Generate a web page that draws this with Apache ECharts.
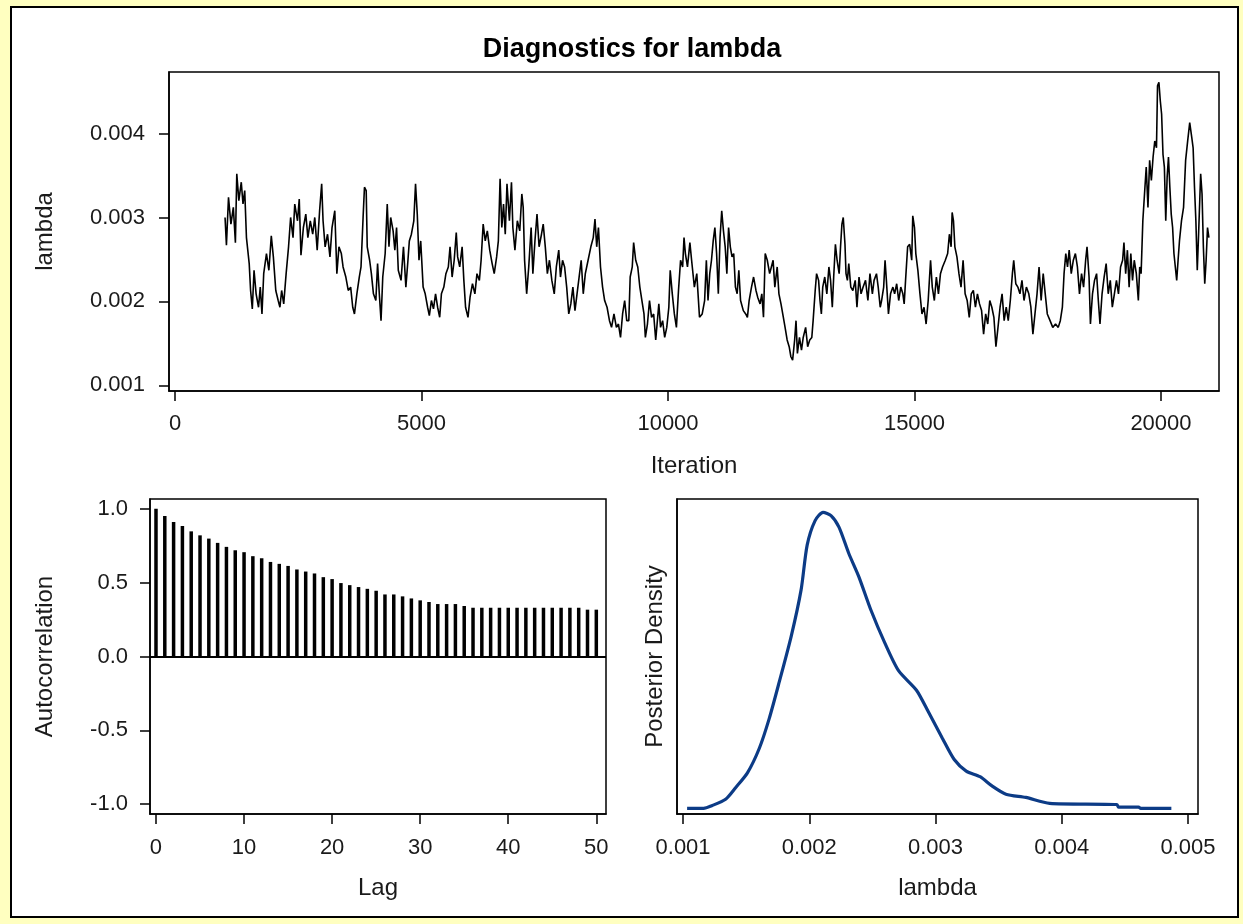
<!DOCTYPE html>
<html>
<head>
<meta charset="utf-8">
<script src="https://cdn.jsdelivr.net/npm/echarts@6/dist/echarts.min.js"></script>
<style>
html,body{margin:0;padding:0;background:#FFFFC0;}
#chart{width:1243px;height:924px;}
</style>
</head>
<body>
<div id="chart"></div>
<script>
// ---- Trace plot data (iteration, lambda) ----
const traceIter = [
1015,1043,1085,1134,1183,1225,1253,1295,1344,1379,
1414,1449,1505,1533,1568,1603,1645,1694,1729,1764,
1799,1855,1904,1953,1995,2044,2093,2128,2163,2205,
2254,2303,2345,2394,2429,2485,2520,2555,2604,2653,
2695,2744,2793,2835,2884,2933,2975,3003,3045,3094,
3143,3185,3241,3283,3325,3374,3409,3465,3514,3563,
3605,3640,3689,3738,3773,3815,3843,3878,3899,3948,
3983,4025,4074,4109,4144,4179,4214,4263,4305,4340,
4375,4424,4459,4494,4529,4585,4634,4683,4725,4753,
4795,4844,4879,4914,4949,4984,5033,5075,5124,5159,
5201,5243,5285,5327,5369,5404,5453,5495,5544,5579,
5621,5663,5705,5733,5775,5824,5859,5894,5943,5985,
6034,6083,6125,6174,6209,6251,6293,6335,6384,6433,
6475,6524,6559,6594,6629,6664,6699,6734,6783,6825,
6853,6895,6944,6993,7035,7063,7091,7133,7175,7224,
7259,7301,7343,7385,7434,7469,7511,7553,7595,7644,
7693,7735,7784,7819,7861,7903,7945,7987,8029,8071,
8113,8155,8197,8239,8281,8323,8379,8435,8484,8519,
8554,8589,8631,8673,8715,8764,8813,8855,8904,8953,
8995,9037,9079,9121,9163,9205,9233,9275,9303,9345,
9387,9429,9471,9513,9541,9583,9625,9667,9709,9751,
9779,9814,9849,9891,9933,9975,10017,10045,10087,10129,
10171,10213,10255,10297,10325,10353,10395,10444,10479,10535,
10584,
10639,10694,10743,10778,10812,10847,10882,10917,10951,10986,
11021,11056,11090,11125,11160,11194,11229,11264,11299,11333,
11368,11403,11437,11472,11528,11576,11611,11646,11694,11736,
11785,11819,11868,11903,11937,11972,12014,12062,12097,12132,
12167,12215,12250,12292,12340,12375,12417,12458,12493,12528,
12569,12597,12625,12667,12708,12743,12792,12833,12875,12917,
12944,12986,13014,13055,13083,13111,13139,13180,13222,13264,
13298,13333,13361,13396,13430,13472,13500,13528,13555,13590,
13611,13639,13667,13708,13750,13798,13833,13875,13916,13958,
14007,14055,14097,14146,14180,14229,14264,14305,14333,14375,
14403,14430,14472,14514,14562,14597,14639,14680,14722,14764,
14791,14819,14861,14902,14944,14965,15000,15027,15069,15111,
15152,15194,15236,15278,15326,15361,15403,15444,15486,15527,
15569,15625,15673,15708,15743,15764,15791,15819,15861,15902,
15944,15986,16027,16069,16111,16152,16194,16236,16277,16319,
16361,16402,16444,16486,16527,16569,16611,16652,16694,16736,
16777,16819,16861,16902,16944,16986,17013,17055,17097,17139,
17180,17222,17270,17319,17361,17402,17444,17486,17527,17569,
17611,17652,17694,17750,17805,17861,17916,17958,18000,18034,
18069,18104,18138,18180,18222,18264,18305,18347,18389,18430,
18472,18500,18541,18569,18611,18652,18694,18729,18763,18805,
18847,18888,18930,18972,19013,19055,19097,19138,19180,19222,
19249,19284,19319,19354,19388,19423,19458,19500,19541,19569,
19597,19632,19666,19701,19736,19770,19805,19840,19874,19909,
19930,19958,19986,20013,20041,20069,20097,20125,20152,20180,
20208,20236,20263,20291,20319,20347,20375,20416,20458,20500,
20541,20583,20625,20652,20680,20708,20736,20763,20805,20833,
20860,20888,20916,20944,20972
];
const traceLambda = [
0.00300,0.00267,0.00324,0.00292,0.00312,0.00270,0.00352,0.00320,0.00342,0.00316,
0.00332,0.00276,0.00245,0.00213,0.00191,0.00237,0.00209,0.00193,0.00217,0.00185,
0.00233,0.00257,0.00237,0.00278,0.00253,0.00213,0.00201,0.00193,0.00213,0.00197,
0.00233,0.00265,0.00300,0.00276,0.00316,0.00296,0.00322,0.00255,0.00288,0.00304,
0.00276,0.00296,0.00280,0.00300,0.00261,0.00308,0.00340,0.00296,0.00265,0.00280,
0.00253,0.00288,0.00308,0.00233,0.00265,0.00257,0.00241,0.00229,0.00213,0.00217,
0.00193,0.00185,0.00209,0.00229,0.00241,0.00300,0.00336,0.00332,0.00265,0.00249,
0.00233,0.00209,0.00201,0.00245,0.00209,0.00177,0.00229,0.00257,0.00316,0.00265,
0.00300,0.00284,0.00261,0.00288,0.00237,0.00225,0.00265,0.00217,0.00249,0.00272,
0.00280,0.00296,0.00340,0.00304,0.00249,0.00272,0.00217,0.00209,0.00193,0.00183,
0.00201,0.00191,0.00209,0.00193,0.00181,0.00209,0.00217,0.00233,0.00241,0.00265,
0.00229,0.00249,0.00282,0.00253,0.00241,0.00265,0.00225,0.00193,0.00181,0.00205,
0.00221,0.00209,0.00233,0.00225,0.00249,0.00292,0.00272,0.00284,0.00261,0.00245,
0.00233,0.00253,0.00272,0.00346,0.00288,0.00316,0.00280,0.00340,0.00296,0.00342,
0.00288,0.00261,0.00296,0.00284,0.00328,0.00312,0.00249,0.00209,0.00241,0.00288,
0.00233,0.00272,0.00304,0.00265,0.00280,0.00292,0.00265,0.00233,0.00249,0.00225,
0.00209,0.00241,0.00261,0.00229,0.00249,0.00241,0.00217,0.00185,0.00197,0.00217,
0.00189,0.00209,0.00229,0.00249,0.00209,0.00233,0.00249,0.00265,0.00276,0.00298,
0.00265,0.00288,0.00241,0.00217,0.00201,0.00193,0.00177,0.00169,0.00185,0.00169,
0.00173,0.00157,0.00185,0.00201,0.00177,0.00177,0.00229,0.00241,0.00270,0.00249,
0.00241,0.00217,0.00201,0.00185,0.00157,0.00173,0.00201,0.00181,0.00185,0.00154,
0.00173,0.00197,0.00169,0.00177,0.00157,0.00169,0.00193,0.00237,0.00209,0.00185,
0.00169,0.00213,0.00249,0.00241,0.00276,0.00257,0.00241,0.00270,0.00249,0.00217,
0.00233,
0.00181,0.00185,0.00201,0.00249,0.00201,0.00233,0.00249,0.00272,0.00288,0.00257,
0.00209,0.00276,0.00308,0.00284,0.00265,0.00233,0.00288,0.00265,0.00253,0.00257,
0.00217,0.00209,0.00237,0.00201,0.00189,0.00185,0.00181,0.00201,0.00217,0.00229,
0.00213,0.00205,0.00197,0.00209,0.00181,0.00257,0.00249,0.00233,0.00241,0.00249,
0.00217,0.00241,0.00209,0.00197,0.00181,0.00169,0.00154,0.00146,0.00134,0.00130,
0.00154,0.00177,0.00138,0.00157,0.00142,0.00157,0.00169,0.00146,0.00154,0.00157,
0.00177,0.00213,0.00233,0.00225,0.00201,0.00185,0.00217,0.00229,0.00209,0.00241,
0.00225,0.00193,0.00229,0.00268,0.00249,0.00233,0.00265,0.00292,0.00300,0.00268,
0.00233,0.00225,0.00245,0.00217,0.00213,0.00225,0.00193,0.00229,0.00209,0.00217,
0.00225,0.00201,0.00233,0.00209,0.00225,0.00233,0.00217,0.00193,0.00201,0.00217,
0.00249,0.00225,0.00185,0.00209,0.00217,0.00209,0.00221,0.00201,0.00217,0.00209,
0.00197,0.00225,0.00265,0.00268,0.00249,0.00302,0.00288,0.00257,0.00237,0.00209,
0.00185,0.00193,0.00173,0.00201,0.00249,0.00217,0.00201,0.00229,0.00209,0.00233,
0.00241,0.00249,0.00257,0.00280,0.00265,0.00306,0.00296,0.00265,0.00253,0.00233,
0.00217,0.00249,0.00209,0.00201,0.00181,0.00209,0.00213,0.00193,0.00209,0.00197,
0.00189,0.00161,0.00185,0.00173,0.00201,0.00193,0.00181,0.00146,0.00169,0.00193,
0.00209,0.00177,0.00193,0.00177,0.00201,0.00233,0.00249,0.00221,0.00217,0.00209,
0.00225,0.00201,0.00217,0.00209,0.00193,0.00161,0.00185,0.00209,0.00241,0.00201,
0.00233,0.00209,0.00185,0.00177,0.00169,0.00173,0.00169,0.00177,0.00193,0.00233,
0.00257,0.00241,0.00261,0.00233,0.00249,0.00257,0.00241,0.00209,0.00233,0.00217,
0.00249,0.00265,0.00229,0.00173,0.00209,0.00225,0.00233,0.00201,0.00173,0.00209,
0.00229,0.00245,0.00209,0.00225,0.00193,0.00209,0.00225,0.00209,0.00241,0.00249,
0.00270,0.00233,0.00261,0.00217,0.00257,0.00225,0.00249,0.00233,0.00201,0.00241,
0.00233,0.00296,0.00328,0.00360,0.00312,0.00368,0.00344,0.00372,0.00391,0.00383,
0.00457,0.00461,0.00439,0.00423,0.00375,0.00360,0.00296,0.00348,0.00372,0.00336,
0.00304,0.00288,0.00257,0.00241,0.00225,0.00249,0.00272,0.00296,0.00312,0.00368,
0.00391,0.00413,0.00395,0.00383,0.00336,0.00296,0.00237,0.00280,0.00352,0.00328,
0.00265,0.00221,0.00249,0.00288,0.00276
];
const traceXTicks = [0, 5000, 10000, 15000, 20000];
const traceYTicks = [0.001, 0.002, 0.003, 0.004];

// ---- Autocorrelation data ----
const acfLags = Array.from({length: 51}, (_, i) => i);
const acfValues = [
1.000,0.951,0.910,0.883,0.847,0.820,0.798,0.769,0.742,0.719,
0.706,0.679,0.665,0.640,0.627,0.613,0.589,0.575,0.562,0.537,
0.524,0.497,0.483,0.470,0.458,0.445,0.420,0.420,0.407,0.393,
0.380,0.369,0.355,0.355,0.355,0.342,0.330,0.330,0.330,0.330,
0.330,0.330,0.330,0.330,0.330,0.330,0.330,0.330,0.330,0.317,
0.317
];
const acfXTicks = [0, 10, 20, 30, 40, 50];
const acfYTicks = [-1, -0.5, 0, 0.5, 1];

// ---- Posterior density data (relative height) ----
const densLambda = [0.001032,0.001163,0.001227,0.001337,0.001416,0.001510,0.001605,0.001683,0.001762,0.001857,
0.001935,0.001983,0.002046,0.002109,0.002172,0.002235,0.002313,0.002392,0.002487,0.002597,
0.002707,0.002849,0.002943,0.003054,0.003148,0.003243,0.003353,0.003447,0.003558,0.003715,
0.003904,0.004437,0.004450,0.004609,0.004625,0.004868];
const densValue = [0.000,0.000,0.009,0.031,0.070,0.120,0.204,0.304,0.427,0.582,
0.738,0.889,0.972,1.000,0.989,0.950,0.861,0.783,0.671,0.560,
0.465,0.399,0.326,0.237,0.165,0.126,0.107,0.076,0.048,0.037,
0.017,0.013,0.004,0.004,0.000,0.000];
const densXTicks = [0.001, 0.002, 0.003, 0.004, 0.005];

const FONT = "'Liberation Sans', Arial, Helvetica, sans-serif";
const TICK_FS = 22, NAME_FS = 24;
const TXT = '#1a1a1a';

function valueAxis(o) {
  return Object.assign({
    type: 'value',
    scale: true,
    splitLine: {show: false},
    axisLine: {show: true, onZero: false, lineStyle: {color: '#000', width: 1.5}},
    nameLocation: 'middle',
    nameTextStyle: {color: TXT, fontSize: NAME_FS, fontFamily: FONT}
  }, o);
}
function ticks(vals) {
  return {show: true, length: 10, customValues: vals, lineStyle: {color: '#000', width: 1.5}};
}
function labels(vals, margin, fmt) {
  return {customValues: vals, margin: margin, color: TXT, fontSize: TICK_FS, fontFamily: FONT, formatter: fmt};
}

const chart = echarts.init(document.getElementById('chart'), null, {renderer: 'canvas'});
const option = {
  backgroundColor: '#FFFFC0',
  animation: false,
  textStyle: {fontFamily: FONT},
  title: {
    text: 'Diagnostics for lambda',
    left: 627, top: 31, textAlign: 'center',
    textStyle: {fontSize: 27, fontWeight: 'bold', color: '#000', fontFamily: FONT}
  },
  graphic: [{
    type: 'rect', z: -100,
    shape: {x: 11, y: 7, width: 1227, height: 910},
    style: {fill: '#fff', stroke: '#000', lineWidth: 2}
  }],
  grid: [
    {left: 169, top: 72, width: 1050, height: 319, show: true, backgroundColor: '#fff', borderColor: '#000', borderWidth: 1.5},
    {left: 150, top: 499, width: 456, height: 315, show: true, backgroundColor: '#fff', borderColor: '#000', borderWidth: 1.5},
    {left: 677, top: 499, width: 521, height: 315, show: true, backgroundColor: '#fff', borderColor: '#000', borderWidth: 1.5}
  ],
  xAxis: [
    valueAxis({gridIndex: 0, min: -122, max: 21177, name: 'Iteration', nameGap: 63,
      axisTick: ticks(traceXTicks), axisLabel: labels(traceXTicks, 22, v => String(v))}),
    valueAxis({gridIndex: 1, min: -0.68, max: 51.1, name: 'Lag', nameGap: 62,
      axisTick: ticks(acfXTicks), axisLabel: labels(acfXTicks, 23, v => String(v))}),
    valueAxis({gridIndex: 2, min: 0.000952, max: 0.005079, name: 'lambda', nameGap: 62,
      axisTick: ticks(densXTicks), axisLabel: labels(densXTicks, 23, v => v.toFixed(3))})
  ],
  yAxis: [
    valueAxis({gridIndex: 0, min: 0.000932, max: 0.004733, name: 'lambda', nameGap: 112,
      axisTick: ticks(traceYTicks), axisLabel: labels(traceYTicks, 24, v => v.toFixed(3))}),
    valueAxis({gridIndex: 1, min: -1.066, max: 1.066, name: 'Autocorrelation', nameGap: 93,
      axisTick: ticks(acfYTicks), axisLabel: labels(acfYTicks, 22, v => v.toFixed(1))}),
    valueAxis({gridIndex: 2, min: -0.019, max: 1.045, name: 'Posterior Density', nameGap: 10,
      axisTick: {show: false}, axisLabel: {show: false}})
  ],
  series: [
    {
      type: 'line', xAxisIndex: 0, yAxisIndex: 0,
      data: traceIter.map((it, i) => [it, traceLambda[i]]),
      showSymbol: false, symbol: 'none', silent: true,
      lineStyle: {color: '#000', width: 1.6}
    },
    {
      type: 'bar', xAxisIndex: 1, yAxisIndex: 1,
      data: acfLags.map((l, i) => [l, acfValues[i]]),
      barWidth: 3.5, silent: true,
      itemStyle: {color: '#000'},
      markLine: {
        silent: true, symbol: 'none', label: {show: false},
        lineStyle: {color: '#000', width: 2, type: 'solid'},
        data: [{yAxis: 0}]
      }
    },
    {
      type: 'line', xAxisIndex: 2, yAxisIndex: 2,
      data: densLambda.map((x, i) => [x, densValue[i]]),
      showSymbol: false, symbol: 'none', silent: true, smooth: 0.25,
      lineStyle: {color: '#0C3B86', width: 3.2}
    }
  ]
};
chart.setOption(option);
</script>
</body>
</html>
